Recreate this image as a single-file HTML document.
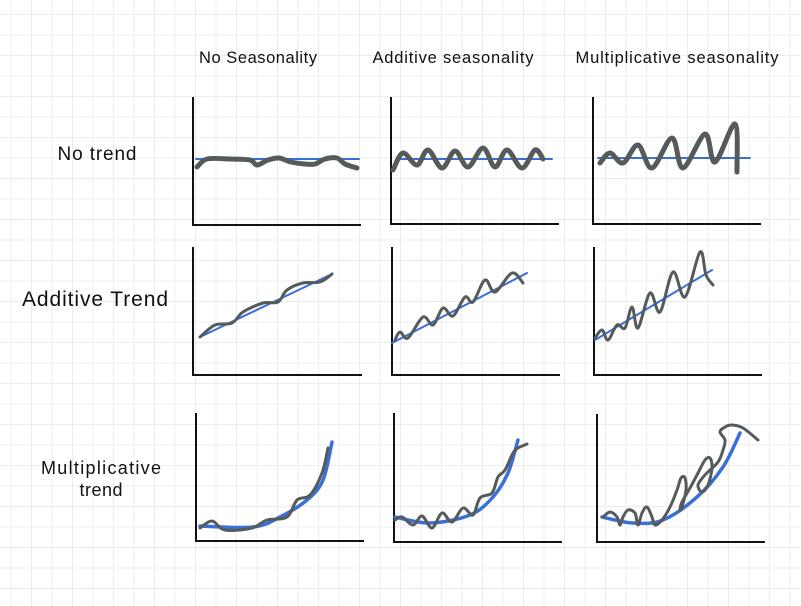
<!DOCTYPE html>
<html><head><meta charset="utf-8">
<style>
html,body{margin:0;padding:0;background:#fff;}
body{width:801px;height:606px;overflow:hidden;}
svg{display:block;}
text{font-family:"Liberation Sans","DejaVu Sans",sans-serif;fill:#111;}
</style></head>
<body>
<svg id="chart" width="801" height="606" viewBox="0 0 801 606">
  <g id="grid"></g>
  <g>
    <text x="258" y="63" font-size="16.5" text-anchor="middle" textLength="118">No Seasonality</text>
    <text x="453" y="63" font-size="16.5" text-anchor="middle" textLength="161">Additive seasonality</text>
    <text x="677" y="63" font-size="16.5" text-anchor="middle" textLength="203">Multiplicative seasonality</text>
  </g>
  <g>
    <text x="97" y="160" font-size="19" text-anchor="middle" textLength="79">No trend</text>
    <text x="95" y="306" font-size="21" text-anchor="middle" textLength="146">Additive Trend</text>
    <text x="101" y="474" font-size="18" text-anchor="middle" textLength="120">Multiplicative</text>
    <text x="101" y="496" font-size="18" text-anchor="middle" textLength="43">trend</text>
  </g>
  <g id="panels"></g>
</svg>
<script>
// Data values for each panel: x in units along axis, y in units above axis
const trendNoneNone = [[3,66],[166,66]];
const seriesNoneNone = [[4,58],[14,66],[37,66],[57,65],[64,60],[75,65],[86,67],[98,63],[112,61],[122,61],[132,66],[144,67],[152,61],[164,57]];
const trendNoneAdd = [[9,65],[161,65]];
const seriesNoneAdd = [[2,54],[12,71],[26,59],[37,74],[51,56],[64,73],[77,57],[92,76],[104,57],[116,74],[131,56],[144,74],[152,65]];
const trendNoneMul = [[5,66],[157,66]];
const seriesNoneMul = [[7,61],[17,71],[30,61],[45,79],[59,56],[79,86],[90,56],[112,90],[122,62],[142,100],[144,52]];
const trendAddNone = [[7,38],[139,101]];
const seriesAddNone = [[7,38],[22,50],[39,52],[50,63],[70,72],[85,73],[94,85],[110,92],[127,93],[139,101]];
const trendAddAdd = [[0,32],[135,102]];
const seriesAddAdd = [[3,35],[8,43],[16,37],[31,58],[41,50],[51,67],[61,59],[73,78],[81,73],[93,95],[103,83],[120,102],[131,92]];
const trendAddMul = [[1,35],[118,105]];
const seriesAddMul = [[1,37],[8,45],[14,35],[23,50],[31,47],[38,68],[44,47],[56,82],[66,63],[79,103],[91,78],[106,123],[112,100],[119,90]];
const trendMulNone = [[4,15],[57,14],[84,24],[111,41],[127,61],[136,99]];
const seriesMulNone = [[4,13],[16,20],[29,11],[56,13],[71,21],[91,24],[101,41],[114,46],[126,68],[132,93]];
const trendMulAdd = [[1,25],[36,19],[76,27],[99,45],[114,69],[124,102]];
const seriesMulAdd = [[1,22],[8,25],[19,17],[28,26],[38,14],[48,29],[58,20],[69,34],[79,27],[86,44],[98,49],[104,65],[111,72],[119,89],[124,94],[133,98]];
const trendMulMul = [[5,25],[36,19],[66,22],[100,45],[126,75],[143,109]];
const seriesMulMul = [[6,25],[13,30],[20,25],[23,17],[26,25],[31,32],[38,29],[41,17],[45,29],[50,35],[55,25],[58,17],[65,22],[73,35],[80,52],[84,64],[88,64],[89,52],[85,35],[83,32],[85,40],[93,54],[101,69],[108,82],[113,84],[115,74],[111,57],[105,50],[101,57],[108,67],[121,80],[126,92],[128,102],[123,110],[128,115],[135,117],[146,114],[161,102]];

const panelNames = ['none-none','none-additive','none-multiplicative','additive-none','additive-additive','additive-multiplicative','multiplicative-none','multiplicative-additive','multiplicative-multiplicative'];
const trends = [trendNoneNone,trendNoneAdd,trendNoneMul,trendAddNone,trendAddAdd,trendAddMul,trendMulNone,trendMulAdd,trendMulMul];
const series = [seriesNoneNone,seriesNoneAdd,seriesNoneMul,seriesAddNone,seriesAddAdd,seriesAddMul,seriesMulNone,seriesMulAdd,seriesMulMul];

// panel layout: axis x, top, bottom, right
const layout = [[193,97,225,361],[391,97,224,559],[593,97,224,761],
                [193,247,375,362],[392,247,375,560],[594,247,375,762],
                [196,413,541,364],[394,413,542,562],[597,414,542,765]];

const NS='http://www.w3.org/2000/svg';
const svg=document.getElementById('chart');
const grid=document.getElementById('grid');
for(let x=11;x<801;x+=20.5){
  const l=document.createElementNS(NS,'line');
  l.setAttribute('x1',x);l.setAttribute('x2',x);l.setAttribute('y1',0);l.setAttribute('y2',606);
  l.setAttribute('stroke','#ececec');l.setAttribute('stroke-width','1');
  
  
  grid.appendChild(l);
}
for(let y=14.5;y<606;y+=20.5){
  const l=document.createElementNS(NS,'line');
  l.setAttribute('x1',0);l.setAttribute('x2',801);l.setAttribute('y1',y);l.setAttribute('y2',y);
  l.setAttribute('stroke','#ececec');l.setAttribute('stroke-width','1');
  
  
  grid.appendChild(l);
}

function smoothPath(pts,sx,sy){
  const p=pts.map(d=>[sx(d[0]),sy(d[1])]);
  if(p.length===2) return `M${p[0][0]},${p[0][1]}L${p[1][0]},${p[1][1]}`;
  let d=`M${p[0][0]},${p[0][1]}`;
  for(let i=0;i<p.length-1;i++){
    const p0=p[i-1]||p[i],p1=p[i],p2=p[i+1],p3=p[i+2]||p2;
    const c1=[p1[0]+(p2[0]-p0[0])/6,p1[1]+(p2[1]-p0[1])/6];
    const c2=[p2[0]-(p3[0]-p1[0])/6,p2[1]-(p3[1]-p1[1])/6];
    d+=`C${c1[0].toFixed(1)},${c1[1].toFixed(1)} ${c2[0].toFixed(1)},${c2[1].toFixed(1)} ${p2[0].toFixed(1)},${p2[1].toFixed(1)}`;
  }
  return d;
}

const panelsG=document.getElementById('panels');
layout.forEach((L,i)=>{
  const [ax,top,bot,right]=L;
  const sx=v=>ax+v, sy=v=>bot-v;
  const g=document.createElementNS(NS,'g');
  
  
  const axes=document.createElementNS(NS,'path');
  axes.setAttribute('d',`M${ax},${top}L${ax},${bot}L${right},${bot}`);
  axes.setAttribute('fill','none');axes.setAttribute('stroke','#111');axes.setAttribute('stroke-width','2');
  
  
  g.appendChild(axes);
  const row=Math.floor(i/3);
  const tr=document.createElementNS(NS,'path');
  tr.setAttribute('d',smoothPath(trends[i],sx,sy));
  tr.setAttribute('fill','none');tr.setAttribute('stroke','#3a6fd8');
  tr.setAttribute('stroke-width',row===2?'3.5':'2');tr.setAttribute('stroke-linecap','round');
  
  
  g.appendChild(tr);
  const se=document.createElementNS(NS,'path');
  se.setAttribute('d',smoothPath(series[i],sx,sy));
  se.setAttribute('fill','none');se.setAttribute('stroke','#555b5b');
  se.setAttribute('stroke-width',row===0?'5':'3');se.setAttribute('stroke-linecap','round');se.setAttribute('stroke-linejoin','round');
  
  
  g.appendChild(se);
  panelsG.appendChild(g);
});
</script>
</body></html>
